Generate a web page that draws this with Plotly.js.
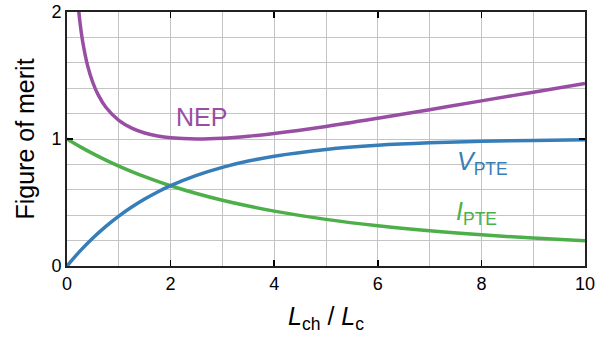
<!DOCTYPE html>
<html><head><meta charset="utf-8">
<script src="https://cdn.plot.ly/plotly-3.0.1.min.js"></script>
<style>html,body{margin:0;padding:0;background:#fff}#c{width:598px;height:337px}</style>
</head><body><div id="c"></div>
<script>
var xV = [0, 0.25, 0.5, 0.75, 1, 1.25, 1.5, 1.75, 2, 2.5, 3, 3.5, 4, 5, 6, 7, 8, 9, 10];
var vPTE = [0, 0.1175, 0.2212, 0.3127, 0.3935, 0.4647, 0.5276, 0.5831, 0.6321, 0.7135, 0.7769, 0.8262, 0.8647, 0.9179, 0.9502, 0.9698, 0.9817, 0.9889, 0.9933];
var iPTE = [1, 0.940, 0.8848, 0.8339, 0.7869, 0.7436, 0.7035, 0.6664, 0.6321, 0.5708, 0.5179, 0.4721, 0.4323, 0.3672, 0.3167, 0.2771, 0.2454, 0.2198, 0.1987];
var xNEP = [0.2, 0.25, 0.3, 0.4, 0.5, 0.6, 0.75, 1, 1.25, 1.5, 1.75, 2, 2.5, 3, 3.5, 4, 5, 6, 7, 8, 9, 10];
var nep = [2.12, 1.920, 1.774, 1.574, 1.443, 1.349, 1.250, 1.147, 1.086, 1.0475, 1.0237, 1.0096, 1.000, 1.006, 1.0218, 1.0437, 1.0992, 1.1633, 1.2311, 1.3001, 1.3689, 1.437];
var xTicks = [0, 2, 4, 6, 8, 10];
var yTicks = [0, 1, 2];

var colNEP = '#984ea3', colV = '#377eb8', colI = '#4daf4a';
var font = 'Liberation Sans, Arial, sans-serif';
var traces = [
  {x: xV, y: iPTE, mode: 'lines', line: {color: colI, width: 3.5, shape: 'spline'}},
  {x: xV, y: vPTE, mode: 'lines', line: {color: colV, width: 3.5, shape: 'spline'}},
  {x: xNEP, y: nep, mode: 'lines', line: {color: colNEP, width: 3.5, shape: 'spline'}}
];
var layout = {
  width: 598, height: 337,
  margin: {l: 67, r: 13, t: 12, b: 71},
  showlegend: false,
  paper_bgcolor: '#fff', plot_bgcolor: '#fff',
  font: {family: font, color: '#000', size: 18},
  xaxis: {
    range: [0, 10], tickvals: xTicks, ticktext: xTicks.map(String),
    ticks: 'inside', ticklen: 6, tickwidth: 1.5, tickcolor: '#000',
    showline: true, linecolor: '#222', linewidth: 2, mirror: 'ticks',
    showgrid: true, gridcolor: '#c4c4c4', gridwidth: 1,
    minor: {dtick: 1, showgrid: true, gridcolor: '#c4c4c4', gridwidth: 1},
    zeroline: false, tickfont: {size: 18},
    title: {text: '<i>L</i><sub>ch</sub> / <i>L</i><sub>c</sub>', font: {size: 25}, standoff: 15}
  },
  yaxis: {
    range: [0, 2], tickvals: yTicks, ticktext: yTicks.map(String),
    ticks: 'inside', ticklen: 6, tickwidth: 1.5, tickcolor: '#000',
    showline: true, linecolor: '#222', linewidth: 2, mirror: 'ticks',
    showgrid: true, gridcolor: '#c4c4c4', gridwidth: 1,
    minor: {dtick: 0.2, showgrid: true, gridcolor: '#c4c4c4', gridwidth: 1},
    zeroline: false, tickfont: {size: 18},
    title: {text: 'Figure of merit', font: {size: 25}, standoff: 10}
  },
  annotations: [
    {x: 2.6, y: 1.17, text: 'NEP', showarrow: false, font: {size: 25, color: colNEP}},
    {x: 8.03, y: 0.81, text: '<i>V</i><sub>PTE</sub>', showarrow: false, font: {size: 25, color: colV}},
    {x: 7.9, y: 0.42, text: '<i>I</i><sub>PTE</sub>', showarrow: false, font: {size: 25, color: colI}}
  ]
};
Plotly.newPlot('c', traces, layout, {staticPlot: true});
</script></body></html>
